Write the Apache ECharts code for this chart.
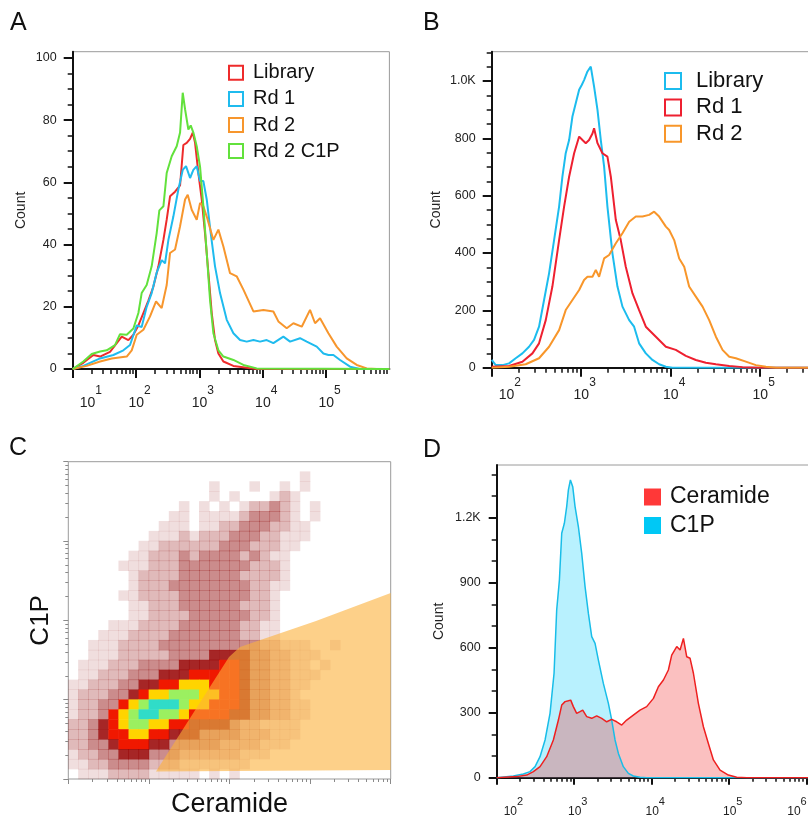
<!DOCTYPE html>
<html><head><meta charset="utf-8">
<script src="https://cdn.jsdelivr.net/npm/echarts@6.0.0/dist/echarts.min.js"></script>
<style>html,body{margin:0;padding:0;background:#fff;overflow:hidden}#c{width:808px;height:819px}</style>
</head><body><div id="c"></div><script>
const FONT = 'Arial, "Liberation Sans", Helvetica, sans-serif';

// ---------- Panel A : x = log10(intensity), y = count ----------
const aLibrary = [[1.000,0],[1.168,2],[1.326,4.5],[1.432,4],[1.589,5.5],[1.774,10.4],[1.879,9.3],[1.958,11],[2.037,14],[2.116,18],[2.195,22],[2.274,26.5],[2.353,33],[2.432,41.5],[2.484,48],[2.537,55.5],[2.616,57],[2.695,59],[2.747,72],[2.800,72.7],[2.853,74],[2.895,76],[2.932,72.7],[2.984,63],[3.037,54.5],[3.089,43.7],[3.142,31],[3.195,18],[3.247,9.3],[3.300,5],[3.379,2.4],[3.537,1],[3.747,0.4],[3.905,0],[6,0]];
const aRd1 = [[1.000,0],[1.168,1],[1.432,3.4],[1.642,4.5],[1.800,6],[1.905,7.7],[2.011,14],[2.089,13.5],[2.168,20],[2.247,24.4],[2.326,31],[2.405,35],[2.458,34],[2.511,41.5],[2.589,49],[2.668,57.7],[2.737,64],[2.789,65.2],[2.853,61.4],[2.905,64],[2.958,65.2],[3.011,60.4],[3.063,60.4],[3.116,54.5],[3.179,43.7],[3.247,33],[3.326,24.4],[3.432,15.8],[3.537,11.5],[3.642,9.3],[3.747,8.8],[3.853,9.3],[3.958,8.8],[4.063,9.3],[4.168,8.3],[4.326,10.4],[4.432,8.8],[4.589,9.9],[4.695,8.8],[4.853,7.2],[4.958,5],[5.037,4.5],[5.116,4.5],[5.221,2.9],[5.379,0.75],[5.537,0],[6,0]];
const aRd2 = [[1.000,0],[1.221,1],[1.432,2.4],[1.616,3.4],[1.853,4],[1.932,6],[2.011,11],[2.116,12.6],[2.221,16.9],[2.316,21.7],[2.405,19.6],[2.484,27],[2.537,37.3],[2.616,38.4],[2.695,45.9],[2.774,54.5],[2.816,56],[2.879,51.2],[2.958,48],[3.011,53.4],[3.063,52.3],[3.116,49],[3.221,41.5],[3.300,44.8],[3.379,39.4],[3.484,30.8],[3.589,29.8],[3.695,25.5],[3.853,18.5],[4.011,19],[4.168,18.5],[4.247,15.3],[4.379,13.1],[4.484,14.7],[4.616,13.6],[4.747,19],[4.826,14.7],[4.905,16.3],[5.037,11.5],[5.168,7.2],[5.326,3.4],[5.484,1.3],[5.642,0.2],[5.800,0],[6,0]];
const aRd2C1P = [[1.000,0],[1.168,2.4],[1.300,4.8],[1.432,5.6],[1.537,6],[1.668,7.7],[1.747,11.2],[1.853,11],[1.958,13],[2.037,18],[2.089,24.4],[2.168,27],[2.247,33],[2.326,43.7],[2.368,51],[2.432,52.3],[2.484,63],[2.563,68.4],[2.642,71.6],[2.695,76],[2.737,88.8],[2.774,83.5],[2.826,77],[2.863,78.3],[2.905,76],[2.958,71.6],[3.011,65],[3.063,52.3],[3.116,37.3],[3.168,22.2],[3.221,11.5],[3.300,6],[3.379,4],[3.537,2.9],[3.695,1.3],[3.905,0.2],[6,0]];
const aNames = ['Library','Rd 1','Rd 2','Rd 2 C1P'];
const aColors = ['#ee2b2b','#1fbbee','#f7962d','#62e13c'];
const aDecades = [1,2,3,4,5];
const aYTicks = [0,20,40,60,80,100];
const aYLabels = ['0','20','40','60','80','100'];

// ---------- Panel B ----------
const bLibrary = [[2.000,27],[2.045,9],[2.119,9],[2.194,15],[2.268,33],[2.343,50],[2.417,73],[2.473,97],[2.529,143],[2.585,236],[2.641,329],[2.697,445],[2.753,562],[2.790,666],[2.827,748],[2.865,794],[2.902,876],[2.939,922],[2.977,969],[3.006,986],[3.032,1003],[3.070,1033],[3.107,1050],[3.144,980],[3.182,899],[3.219,794],[3.256,701],[3.293,562],[3.349,399],[3.405,283],[3.461,213],[3.536,166],[3.591,143],[3.647,85],[3.722,50],[3.796,27],[3.871,12],[3.946,3.5],[4.020,0],[6,0]];
const bRd1 = [[2.000,3.5],[2.194,6],[2.343,21],[2.455,50],[2.529,85],[2.604,166],[2.678,283],[2.753,445],[2.809,562],[2.865,666],[2.921,748],[2.977,806],[3.014,794],[3.051,783],[3.088,794],[3.126,817],[3.144,835],[3.182,783],[3.237,748],[3.293,736],[3.331,666],[3.387,515],[3.442,445],[3.498,352],[3.573,259],[3.647,201],[3.722,143],[3.834,108],[3.946,73],[4.057,62],[4.169,41],[4.281,27],[4.393,17],[4.505,12],[4.654,6],[4.803,2],[4.989,0],[6,0]];
const bRd2 = [[2.000,0],[2.194,3.5],[2.380,12],[2.529,33],[2.641,73],[2.753,131],[2.827,201],[2.902,236],[2.977,271],[3.032,306],[3.070,317],[3.126,317],[3.163,341],[3.200,317],[3.256,381],[3.312,393],[3.387,434],[3.461,469],[3.536,509],[3.610,527],[3.685,527],[3.759,533],[3.815,544],[3.871,527],[3.946,492],[3.983,480],[4.039,445],[4.095,381],[4.151,352],[4.206,283],[4.281,248],[4.356,213],[4.430,166],[4.505,108],[4.579,62],[4.654,38],[4.728,33],[4.840,21],[4.952,9],[5.064,3.5],[5.176,0],[6,0]];
const bNames = ['Library','Rd 1','Rd 2'];
const bColors = ['#1cbcee','#ee2030','#f8962a'];
const bDecades = [2,3,4,5];
const bYTicks = [0,200,400,600,800,1000];
const bYLabels = ['0','200','400','600','800','1.0K'];

// ---------- Panel C : density levels (rows top->bottom), gate polygon in log10 units ----------
const cDensityRows = [
 "00000000000000000000000000000000",
 "00000000000000000000000100000000",
 "00000000000000100010010100000000",
 "00000000000000101000121000000000",
 "00000000000101010122321010000000",
 "00000000001101111233321010000000",
 "00000000011101122333221100000000",
 "00000000111212223332211100000000",
 "00000001122222233322211000000000",
 "00000011222323333232110000000000",
 "00000111222333333322210000000000",
 "00000012222333333222210000000000",
 "00000012223333333322110000000000",
 "00000112222333333322100000000000",
 "00000011222333333222100000000000",
 "00000011222233333322100000000000",
 "00001112222333333221100000000000",
 "00011122223333333221100000000000",
 "00111222233333333332211100100000",
 "00111222223333444433221110000000",
 "01112223333444455433221101000000",
 "01122233344455555433221110000000",
 "11222334455666555433221100000000",
 "12223345667776655433221000000000",
 "12233567888766555433221100000000",
 "12235678877655554433221100000000",
 "22345677665544443221111000000000",
 "22345566554443333222111000000000",
 "22334555443333322221110000000000",
 "12233444333222222111000000000000",
 "11223333222111111100000000000000",
 "01112222111110101000000000000000"
];
const cLevelColors = ['rgba(140,0,0,0.13)','rgba(140,0,0,0.27)','rgba(140,0,0,0.45)','rgba(150,0,0,0.85)','#f01800','#ffd400','#9bf060','#30dcc8'];
const cGateLogX = [3.088,3.994,4.130,5.073,6.0,6.0];
const cGateLogY = [2.095,3.538,3.665,3.992,4.346,2.113];
const cDecades = [2,3,4,5,6];

// ---------- Panel D ----------
const dC1P = [[2.000,0],[2.215,8],[2.344,17],[2.430,28],[2.495,51],[2.559,97],[2.624,174],[2.688,297],[2.740,482],[2.774,774],[2.809,912],[2.839,1128],[2.873,1174],[2.903,1251],[2.925,1328],[2.951,1374],[2.981,1343],[3.011,1251],[3.054,1158],[3.097,1035],[3.140,882],[3.183,758],[3.226,651],[3.269,620],[3.312,543],[3.376,435],[3.441,343],[3.484,266],[3.527,174],[3.570,112],[3.634,51],[3.699,20],[3.763,8],[3.849,2],[3.935,0],[6.05,0]];
const dCeramide = [[2.000,0],[2.258,5],[2.387,12],[2.473,28],[2.559,51],[2.645,97],[2.731,174],[2.796,266],[2.839,335],[2.882,351],[2.925,355],[2.955,358],[2.989,328],[3.032,297],[3.075,305],[3.110,312],[3.161,282],[3.226,274],[3.290,285],[3.355,274],[3.419,258],[3.484,269],[3.548,258],[3.613,243],[3.677,266],[3.763,289],[3.849,312],[3.935,328],[4.022,366],[4.086,420],[4.151,451],[4.215,497],[4.258,566],[4.323,605],[4.366,589],[4.409,643],[4.452,558],[4.495,551],[4.538,482],[4.602,343],[4.667,235],[4.731,158],[4.796,82],[4.882,35],[4.989,12],[5.097,2],[5.226,0],[6.05,0]];
const dNames = ['Ceramide','C1P'];
const dColors = ['#ff3838','#00c8f5'];
const dDecades = [2,3,4,5,6];
const dYTicks = [0,300,600,900,1200];
const dYLabels = ['0','300','600','900','1.2K'];

// ---------- helpers ----------
function logMinors(lo, hi){ const out=[]; for(let n=Math.floor(lo); n<hi; n++){ for(let k=2;k<10;k++){ const v=n+Math.log10(k); if(v>lo && v<hi) out.push(+v.toFixed(4)); } } return out; }
function linMinors(step, max, major){ const out=[]; for(let v=step; v<=max+1e-9; v+=step){ if(Math.abs(v/major-Math.round(v/major))>1e-6) out.push(v); } return out; }
function powRich(b, s, h){ return { p:{width:7, lineHeight:h, fontSize:s}, b:{fontSize:b, lineHeight:b, verticalAlign:'bottom', fontFamily:FONT, color:'#222'}, s:{fontSize:s, lineHeight:s, verticalAlign:'top', fontFamily:FONT, color:'#222'} }; }
function mainX(g, min, max, decades, o){
  return { type:'value', gridIndex:g, min:min, max:max, position:'bottom',
    axisLine:{show:true, onZero:false, lineStyle:{color:'#111', width:2}},
    axisTick:{show:true, length:o.tick, lineStyle:{color:'#111', width:2}, customValues:decades},
    axisLabel:{show:true, customValues:decades, margin:o.margin, formatter:function(v){ return '{p|\u00a0}{b|10}{s|'+Math.round(v)+'}'; }, rich:powRich(o.b,o.s,o.h), alignMinLabel:'left', alignMaxLabel:o.alignMax||'center'},
    splitLine:{show:false} };
}
function minorAxis(g, min, max, vals, pos, len, color, w){
  return { type:'value', gridIndex:g, min:min, max:max, position:pos,
    axisLine:{show:false, onZero:false}, axisLabel:{show:false}, splitLine:{show:false},
    axisTick:{show:true, length:len, lineStyle:{color:color, width:w}, customValues:vals} };
}
function mainY(g, max, ticks, labels, o){
  return { type:'value', gridIndex:g, min:0, max:max, position:'left',
    axisLine:{show:true, onZero:false, lineStyle:{color:'#111', width:2}},
    axisTick:{show:true, length:o.tick, lineStyle:{color:'#111', width:2}, customValues:ticks},
    axisLabel:{show:true, customValues:ticks, margin:o.margin, fontSize:12.5, color:'#222', fontFamily:FONT,
      formatter:function(v){ const i=ticks.indexOf(+v); return i>=0?labels[i]:String(v); }},
    splitLine:{show:false},
    name:'Count', nameLocation:'middle', nameGap:o.nameGap, nameRotate:90, nameMoveOverlap:false,
    nameTextStyle:{fontSize:14, color:'#222', fontFamily:FONT} };
}
function lineSeries(name, data, color, xi, yi){
  return { type:'line', name:name, data:data, xAxisIndex:xi, yAxisIndex:yi, symbol:'none', showSymbol:false, silent:true,
    lineStyle:{color:color, width:2}, itemStyle:{color:color} };
}
function legend(names, colors, hollow, o){
  return { orient:'vertical', left:o.left, top:o.top, itemWidth:o.icon, itemHeight:o.icon, itemGap:o.gap, icon:'rect', padding:0, selectedMode:false,
    textStyle:{fontSize:o.font, lineHeight:o.font, color:'#111', fontFamily:FONT, padding:[0,0,0,o.pad]},
    data: names.map(function(n,k){ return { name:n, itemStyle:{ color: hollow?'rgba(0,0,0,0)':colors[k], borderColor:colors[k], borderWidth: hollow?2:0 } }; }) };
}

// ---------- C cells ----------
const cRows = cDensityRows.length, cCols = cDensityRows[0].length;
const cCells = [];
cDensityRows.forEach(function(row, j){ for(let i=0;i<row.length;i++){ const lv=+row[i]; if(lv>0) cCells.push([i, cRows-1-j, lv]); } });
const cCatX = Array.from({length:cCols}, (_, i) => i);
const cCatY = Array.from({length:cRows}, (_, i) => i);
const cGate = cGateLogX.map((x,k)=>[x, cGateLogY[k]]);

const gridBase = {show:true, borderColor:'#9a9a9a', borderWidth:1, backgroundColor:'rgba(0,0,0,0)', outerBoundsMode:'none', containLabel:false};

const xAxis = [
  mainX(0, 1, 6, aDecades, {tick:9, margin:16, b:14, s:12, h:25}),              //0
  minorAxis(0, 1, 6, logMinors(1,6), 'bottom', 5, '#111', 1.5),                  //1
  mainX(1, 2, 6, bDecades, {tick:9, margin:9, b:14, s:12, h:25}),               //2
  minorAxis(1, 2, 6, logMinors(2,6), 'bottom', 5, '#111', 1.5),                  //3
  Object.assign(minorAxis(2, 2, 6, cDecades, 'bottom', 5, '#8a8a8a', 1), {name:'Ceramide', nameLocation:'middle', nameGap:12, nameMoveOverlap:false, nameTextStyle:{fontSize:27, color:'#111', fontFamily:FONT}}), //4
  minorAxis(2, 2, 6, logMinors(2,6), 'bottom', 3, '#8a8a8a', 1),                 //5
  {type:'category', gridIndex:2, position:'top', show:false, data:cCatX},       //6
  mainX(3, 2, 6.05, dDecades, {tick:7, margin:19, b:12, s:11, h:21, alignMax:'right'}), //7
  minorAxis(3, 2, 6.05, logMinors(2,6.05), 'bottom', 4, '#111', 1.5)            //8
];
const yAxis = [
  mainY(0, 102, aYTicks, aYLabels, {tick:9, margin:16, nameGap:45}),            //0
  minorAxis(0, 0, 102, linMinors(5,100,20), 'left', 5, '#111', 1.5),            //1
  mainY(1, 1102, bYTicks, bYLabels, {tick:9, margin:16, nameGap:49}),           //2
  minorAxis(1, 0, 1102, linMinors(50,1100,200), 'left', 5, '#111', 1.5),        //3
  Object.assign(minorAxis(2, 2, 6, cDecades, 'left', 5, '#8a8a8a', 1), {name:'C1P', nameLocation:'middle', nameGap:14, nameRotate:90, nameMoveOverlap:false, nameTextStyle:{fontSize:26, color:'#111', fontFamily:FONT}}), //4
  minorAxis(2, 2, 6, logMinors(2,6), 'left', 3, '#8a8a8a', 1),                   //5
  {type:'category', gridIndex:2, position:'right', show:false, data:cCatY},     //6
  mainY(3, 1443, dYTicks, dYLabels, {tick:8, margin:16, nameGap:51}),           //7
  minorAxis(3, 0, 1443, linMinors(100,1400,300), 'left', 5, '#111', 1.5)        //8
];

const series = [
  lineSeries(aNames[0], aLibrary, aColors[0], 0, 0),
  lineSeries(aNames[1], aRd1, aColors[1], 0, 0),
  lineSeries(aNames[2], aRd2, aColors[2], 0, 0),
  lineSeries(aNames[3], aRd2C1P, aColors[3], 0, 0),
  lineSeries(bNames[0], bLibrary, bColors[0], 2, 2),
  lineSeries(bNames[1], bRd1, bColors[1], 2, 2),
  lineSeries(bNames[2], bRd2, bColors[2], 2, 2),
  { type:'heatmap', xAxisIndex:6, yAxisIndex:6, data:cCells, silent:true, z:2, emphasis:{disabled:true}, itemStyle:{borderWidth:0} },
  { type:'custom', xAxisIndex:4, yAxisIndex:4, data:cGate, silent:true, z:3,
    renderItem:function(params, api){ if(params.dataIndex!==0) return null;
      const pts = cGate.map(p => api.coord(p));
      return {type:'polygon', shape:{points:pts}, style:{fill:'rgba(251,176,59,0.6)'}}; } },
  { type:'line', name:dNames[1], data:dC1P, xAxisIndex:7, yAxisIndex:7, symbol:'none', silent:true,
    lineStyle:{color:'#18bde8', width:1.5}, itemStyle:{color:dColors[1]}, areaStyle:{color:'rgba(0,205,250,0.4)'} },
  { type:'line', name:dNames[0], data:dCeramide, xAxisIndex:7, yAxisIndex:7, symbol:'none', silent:true,
    lineStyle:{color:'#ee2020', width:1.5}, itemStyle:{color:dColors[0]}, areaStyle:{color:'rgba(240,40,40,0.42)'} }
];

const chart = echarts.init(document.getElementById('c'), null, {renderer:'canvas'});
chart.setOption({
  animation:false,
  backgroundColor:'#ffffff',
  textStyle:{fontFamily:FONT},
  grid:[
    Object.assign({left:72.7, top:51.7, width:316.7, height:317.3}, gridBase),
    Object.assign({left:491.7, top:51.7, width:358, height:316}, gridBase),
    Object.assign({left:68.3, top:461.7, width:322.4, height:317.3}, gridBase),
    Object.assign({left:496.7, top:465, width:313.9, height:312.7}, gridBase)
  ],
  xAxis:xAxis, yAxis:yAxis,
  visualMap:{ type:'piecewise', show:false, seriesIndex:7, dimension:2,
    pieces: cLevelColors.map((c,k)=>({value:k+1, color:c})) },
  legend:[
    legend(aNames, aColors, true, {left:228, top:62.8, icon:14, gap:6.1, font:20, pad:5}),
    legend(bNames, bColors, true, {left:664, top:70, icon:16, gap:4.4, font:22, pad:10}),
    legend(dNames, dColors, false, {left:644, top:485.5, icon:17, gap:5.5, font:23, pad:4})
  ],
  graphic:[
    {type:'text', left:10, top:11, style:{text:'A', font:'25px '+FONT, fill:'#111'}},
    {type:'text', left:423, top:11, style:{text:'B', font:'25px '+FONT, fill:'#111'}},
    {type:'text', left:9, top:436, style:{text:'C', font:'25px '+FONT, fill:'#111'}},
    {type:'text', left:423, top:438, style:{text:'D', font:'25px '+FONT, fill:'#111'}}
  ],
  series:series
});
</script></body></html>
